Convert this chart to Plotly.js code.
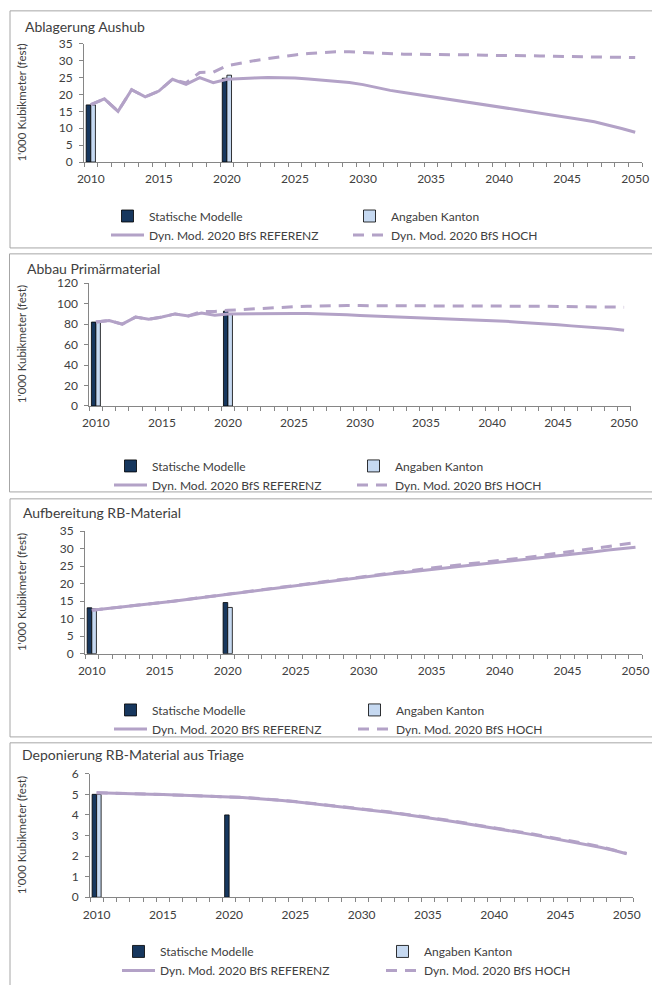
<!DOCTYPE html>
<html>
<head>
<meta charset="utf-8">
<script src="https://cdn.plot.ly/plotly-3.0.1.min.js"></script>
<style>
  html, body { margin: 0; padding: 0; background: #ffffff; }
  #chart { width: 652px; height: 985px; }
</style>
</head>
<body>
<div id="chart"></div>
<script>
// ---------------- DATA ----------------
const years = [2010, 2011, 2012, 2013, 2014, 2015, 2016, 2017, 2018, 2019,
               2020, 2021, 2022, 2023, 2024, 2025, 2026, 2027, 2028, 2029,
               2030, 2031, 2032, 2033, 2034, 2035, 2036, 2037, 2038, 2039,
               2040, 2041, 2042, 2043, 2044, 2045, 2046, 2047, 2048, 2049, 2050];
const barYears = [2010, 2020];
const xTickLabels = [2010, 2015, 2020, 2025, 2030, 2035, 2040, 2045, 2050];

const panelTitles = ["Ablagerung Aushub", "Abbau Primärmaterial", "Aufbereitung RB-Material", "Deponierung RB-Material aus Triage"];
const seriesNames = ["Statische Modelle", "Angaben Kanton", "Dyn. Mod. 2020 BfS REFERENZ", "Dyn. Mod. 2020 BfS HOCH"];
const yAxisTitle = "1'000 Kubikmeter (fest)";

// Panel 1: Ablagerung Aushub
const aushubStatisch = [16.9, 24.8];
const aushubKanton   = [16.9, 25.7];
const aushubRef  = [17.0, 18.7, 15.0, 21.4, 19.3, 21.0, 24.5, 23.0, 25.0, 23.5,
                    24.5, 24.8, 24.9, 25.0, 25.0, 24.9, 24.6, 24.3, 24.0, 23.5,
                    22.9, 22.0, 21.2, 20.6, 20.0, 19.4, 18.8, 18.2, 17.6, 17.0,
                    16.4, 15.8, 15.2, 14.5, 13.9, 13.3, 12.6, 11.9, 11.0, 9.9, 8.8];
const aushubHoch = [17.0, 18.7, 15.0, 21.4, 19.3, 21.0, 24.5, 23.4, 26.5, 26.6,
                    28.5, 29.3, 30.0, 30.6, 31.2, 31.7, 32.1, 32.4, 32.6, 32.6,
                    32.4, 32.1, 31.9, 31.9, 31.9, 31.9, 31.8, 31.7, 31.7, 31.6,
                    31.6, 31.5, 31.4, 31.4, 31.3, 31.2, 31.2, 31.1, 31.1, 31.0, 30.9];

// Panel 2: Abbau Primärmaterial
const primStatisch = [82.0, 92.7];
const primKanton   = [82.0, 90.4];
const primRef  = [82.0, 83.6, 80.0, 86.9, 84.8, 86.9, 90.0, 88.0, 90.8, 88.6,
                  90.0, 90.2, 90.4, 90.5, 90.5, 90.4, 90.3, 90.1, 89.6, 89.1,
                  88.5, 88.0, 87.6, 87.1, 86.7, 86.2, 85.8, 85.3, 84.8, 84.2,
                  83.3, 82.8, 81.9, 81.3, 80.6, 79.5, 78.3, 77.6, 76.8, 75.5, 74.0];
const primHoch = [82.0, 83.6, 80.0, 86.9, 84.8, 86.9, 90.0, 88.0, 92.5, 92.4,
                  93.5, 94.3, 95.2, 95.9, 96.5, 97.0, 97.5, 97.9, 98.1, 98.2,
                  98.1, 98.0, 97.9, 97.8, 97.7, 97.7, 97.7, 97.7, 97.6, 97.6,
                  97.6, 97.6, 97.6, 97.5, 97.5, 97.5, 97.3, 97.0, 96.8, 96.7, 96.6];

// Panel 3: Aufbereitung RB-Material
const rbStatisch = [13.1, 14.6];
const rbKanton   = [12.8, 13.2];
const rbRef  = [12.4, 12.8, 13.2, 13.6, 14.0, 14.5, 15.0, 15.5, 16.0, 16.5,
                17.0, 17.5, 18.0, 18.5, 19.0, 19.5, 20.0, 20.5, 21.0, 21.5,
                22.0, 22.4, 22.8, 23.2, 23.7, 24.1, 24.5, 24.9, 25.3, 25.7,
                26.1, 26.5, 27.0, 27.4, 27.9, 28.3, 28.7, 29.1, 29.6, 30.0, 30.4];
const rbHoch = [12.4, 12.8, 13.2, 13.6, 14.0, 14.5, 15.0, 15.5, 16.0, 16.5,
                17.0, 17.5, 18.0, 18.5, 19.0, 19.5, 20.1, 20.6, 21.1, 21.7,
                22.2, 22.7, 23.1, 23.6, 24.0, 24.5, 24.9, 25.3, 25.8, 26.2,
                26.6, 27.1, 27.5, 28.0, 28.5, 29.0, 29.5, 30.0, 30.5, 31.1, 31.7];

// Panel 4: Deponierung RB-Material aus Triage
const depStatisch = [5.0, 4.0];
const depKanton   = [5.0, null];
const depRef  = [5.08, 5.07, 5.05, 5.03, 5.01, 4.99, 4.97, 4.94, 4.92, 4.90,
                 4.88, 4.85, 4.80, 4.76, 4.70, 4.64, 4.57, 4.49, 4.42, 4.36,
                 4.29, 4.21, 4.13, 4.04, 3.96, 3.87, 3.77, 3.67, 3.57, 3.46,
                 3.36, 3.25, 3.14, 3.03, 2.91, 2.80, 2.68, 2.56, 2.43, 2.28, 2.11];
const depHoch = [5.08, 5.07, 5.05, 5.03, 5.01, 4.99, 4.97, 4.94, 4.92, 4.90,
                 4.88, 4.85, 4.81, 4.77, 4.71, 4.65, 4.58, 4.51, 4.44, 4.38,
                 4.31, 4.23, 4.15, 4.06, 3.98, 3.89, 3.79, 3.69, 3.59, 3.49,
                 3.38, 3.28, 3.17, 3.06, 2.94, 2.83, 2.71, 2.59, 2.46, 2.31, 2.13];

const yMax  = [35, 120, 35, 6];
const yStep = [5, 20, 5, 1];

// ---------------- STYLE / LAYOUT ----------------
const W = 652, H = 985;
const FONT = "Lato, 'Open Sans', sans-serif";
const TXT = "#404040";
const AXC = "#868686";
const C_DARK = "#17375E", C_LIGHT = "#C6D9F1", C_LINE = "#B3A2C7";
const BAR_W = 0.34;

// pixel boxes per panel (plot area, frame, title, legend)
const P = [
  { plot: [84, 642, 44.3, 164],      frame: [10, 11, 251],   title: [23, 27],    ytitle: 21.7, leg: [106, 204],   ew: 194 },
  { plot: [89.3, 630.7, 286.7, 411], frame: [9.5, 257, 498], title: [25, 271.7], ytitle: 21.7, leg: [109, 457],   ew: 195 },
  { plot: [85, 642.3, 537.7, 661.7], frame: [10, 505, 746],  title: [21, 519],   ytitle: 21.7, leg: [109, 704],   ew: 196 },
  { plot: [90, 633.3, 783.3, 908.3], frame: [10, 752, 1000], title: [20, 764.3], ytitle: 21.7, leg: [117, 948.5], ew: 216 }
];

const barsS = [aushubStatisch, primStatisch, rbStatisch, depStatisch];
const barsK = [aushubKanton, primKanton, rbKanton, depKanton];
const refs  = [aushubRef, primRef, rbRef, depRef];
const hochs = [aushubHoch, primHoch, rbHoch, depHoch];

const minorVals = years.map(v => v - 0.5).concat([years[years.length - 1] + 0.5]);

const traces = [];
const layout = {
  width: W, height: H,
  margin: { l: 0, r: 0, t: 0, b: 0 },
  paper_bgcolor: "#ffffff", plot_bgcolor: "rgba(0,0,0,0)",
  font: { family: FONT, size: 12, color: TXT },
  barmode: "group", bargap: 0.36, bargroupgap: 0,
  showlegend: true,
  shapes: [], annotations: []
};

for (let i = 0; i < 4; i++) {
  const n = i === 0 ? "" : String(i + 1);
  const xa = "x" + n, ya = "y" + n;
  const lg = "legend" + n;
  const p = P[i];

  traces.push({ type: "bar", name: seriesNames[0], x: barYears, y: barsS[i], xaxis: xa, yaxis: ya, legend: lg,
    width: BAR_W, offset: -BAR_W,
    marker: { color: C_DARK, line: { color: "#000000", width: 0.8 } } });
  traces.push({ type: "bar", name: seriesNames[1], x: barYears, y: barsK[i], xaxis: xa, yaxis: ya, legend: lg,
    width: BAR_W, offset: 0,
    marker: { color: C_LIGHT, line: { color: "#000000", width: 0.8 } } });
  traces.push({ type: "scatter", mode: "lines", name: seriesNames[2], x: years, y: refs[i], xaxis: xa, yaxis: ya, legend: lg,
    line: { color: C_LINE, width: 3 } });
  traces.push({ type: "scatter", mode: "lines", name: seriesNames[3], x: years, y: hochs[i], xaxis: xa, yaxis: ya, legend: lg,
    line: { color: C_LINE, width: 3, dash: "11px,8px" } });

  layout["xaxis" + n] = {
    domain: [p.plot[0] / W, p.plot[1] / W], anchor: ya,
    range: [2009.5, 2050.5], tickmode: "array", tickvals: xTickLabels, ticktext: xTickLabels.map(String),
    ticks: "", showline: true, linecolor: AXC, linewidth: 1, showgrid: false, zeroline: false,
    tickfont: { family: FONT, size: 12, color: TXT }, ticklabelstandoff: 6,
    minor: { tickmode: "array", tickvals: minorVals, ticks: "outside", ticklen: 4, tickcolor: AXC, tickwidth: 1, showgrid: false },
    fixedrange: true
  };
  layout["yaxis" + n] = {
    domain: [1 - p.plot[3] / H, 1 - p.plot[2] / H], anchor: xa,
    range: [0, yMax[i]], dtick: yStep[i], tick0: 0,
    ticks: "outside", ticklen: 4, tickcolor: AXC, showline: true, linecolor: AXC, linewidth: 1,
    showgrid: false, zeroline: false,
    tickfont: { family: FONT, size: 12, color: TXT }, ticklabelstandoff: 4,
    fixedrange: true
  };
  layout[lg] = {
    x: p.leg[0] / W, y: 1 - p.leg[1] / H, xanchor: "left", yanchor: "top",
    orientation: "h", entrywidth: p.ew, itemwidth: 33, traceorder: "normal",
    bgcolor: "rgba(0,0,0,0)", borderwidth: 0,
    font: { family: FONT, size: 12, color: TXT }
  };
  layout.shapes.push({ type: "rect", xref: "paper", yref: "paper",
    x0: p.frame[0] / W, x1: 1.02, y0: 1 - p.frame[2] / H, y1: 1 - p.frame[1] / H,
    line: { color: "#A6A6A6", width: 1 }, fillcolor: "rgba(0,0,0,0)", layer: "below" });
  layout.annotations.push({ xref: "paper", yref: "paper", x: p.title[0] / W, y: 1 - p.title[1] / H,
    xanchor: "left", yanchor: "middle", showarrow: false, text: panelTitles[i],
    font: { family: FONT, size: 14, color: TXT } });
  layout.annotations.push({ xref: "paper", yref: "paper", x: p.ytitle / W, y: 1 - (p.plot[2] + p.plot[3]) / 2 / H,
    xanchor: "center", yanchor: "middle", showarrow: false, textangle: -90, text: yAxisTitle,
    font: { family: FONT, size: 11.5, color: TXT } });
}

Plotly.newPlot("chart", traces, layout, { staticPlot: true, displayModeBar: false });
</script>
</body>
</html>
